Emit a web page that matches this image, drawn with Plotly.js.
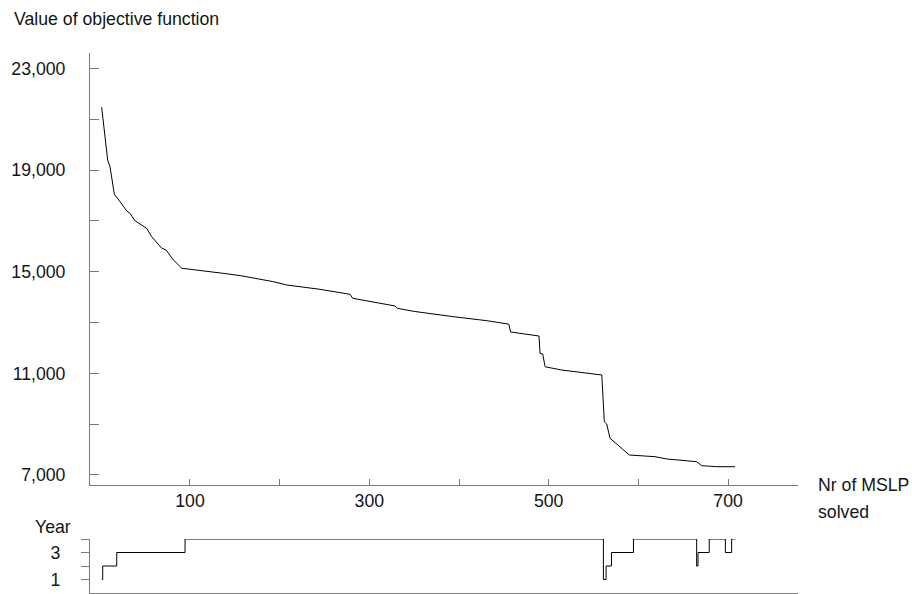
<!DOCTYPE html>
<html>
<head>
<meta charset="utf-8">
<script src="https://cdn.plot.ly/plotly-3.0.1.min.js"></script>
<style>html,body{margin:0;padding:0;background:#fff;}#chart{width:912px;height:594px;}</style>
</head>
<body>
<div id="chart"></div>
<script>
// Objective function value per number of MSLP solved
const mslpX = [1.5, 3.3, 8.2, 10.8, 14.5, 15.6, 22, 29.4, 33, 38.7, 51.7, 57.3, 68.5, 73.3, 81.4, 90.8,
  137, 156, 193, 208, 245, 254, 278.5, 281.4, 328.6, 331.2, 349, 393.7, 431, 455.5, 457.5, 489.2,
  490.3, 493.3, 496, 514.5, 559.2, 562, 564.7, 568.4, 581.5, 590, 618.6, 631.7, 665, 670.7, 687.4, 707.8];
const objective = [21480, 20850, 19400, 19140, 18150, 18060, 17760, 17400, 17300, 17010, 16710, 16380, 15930, 15860, 15470, 15140,
  14940, 14850, 14610, 14480, 14310, 14256, 14114, 13957, 13654, 13563, 13445, 13233, 13075, 12940, 12630, 12472,
  11790, 11764, 11260, 11134, 10937, 9098, 9008, 8445, 8051, 7787, 7720, 7630, 7524, 7366, 7327, 7327];

// Year series (step)
const yearX = [1.5, 2.7, 18.3, 94.5, 561, 564, 570, 594.5, 665, 666.5, 679, 697, 704, 708];
const yearVal = [1, 2, 3, 4, 1, 2, 3, 4, 2, 3, 4, 3, 4, 4];

// Tick labels
const yTickVals = [7000, 9000, 11000, 13000, 15000, 17000, 19000, 21000, 23000];
const yTickText = ['7,000', '', '11,000', '', '15,000', '', '19,000', '', '23,000'];
const xTickVals = [100, 200, 300, 400, 500, 600, 700];
const xTickText = ['100', '', '300', '', '500', '', '700'];
const yrTickVals = [1, 2, 3, 4];
const yrTickText = ['1', '', '3', ''];

const FONT = 'Liberation Sans, Arial, sans-serif';
const FS = 17.7;
const AX = '#7a7a7a';
const TXT = '#151515';

const traces = [
  {x: mslpX, y: objective, type: 'scatter', mode: 'lines', xaxis: 'x', yaxis: 'y',
   line: {color: '#000', width: 1}, hoverinfo: 'skip'},
  {x: yearX, y: yearVal, type: 'scatter', mode: 'lines', xaxis: 'x2', yaxis: 'y2',
   line: {color: '#000', width: 1, shape: 'hv'}, hoverinfo: 'skip'}
];

const layout = {
  width: 912, height: 594,
  margin: {l: 90, r: 114, t: 53, b: 1},
  paper_bgcolor: '#fff', plot_bgcolor: '#fff',
  showlegend: false,
  font: {family: FONT, size: FS, color: TXT},
  xaxis: {domain: [0, 1], anchor: 'y', range: [-11.5, 778], showgrid: false, zeroline: false,
    showline: true, linecolor: AX, linewidth: 1, ticks: 'inside', ticklen: 6, tickcolor: AX,
    tickvals: xTickVals, ticktext: xTickText, ticklabelstandoff: 0,
    tickfont: {family: FONT, size: FS, color: TXT}},
  yaxis: {domain: [0.2, 1], anchor: 'x', range: [6606, 23614], showgrid: false, zeroline: false,
    showline: true, linecolor: AX, linewidth: 1, ticks: 'inside', ticklen: 9, tickcolor: AX,
    tickvals: yTickVals, ticktext: yTickText, ticklabelstandoff: 20,
    tickfont: {family: FONT, size: FS, color: TXT}},
  xaxis2: {domain: [0, 1], anchor: 'y2', matches: 'x', range: [-11.5, 778], showgrid: false, zeroline: false,
    showline: true, linecolor: AX, linewidth: 1, ticks: '', showticklabels: false},
  yaxis2: {domain: [0, 0.1], anchor: 'x2', range: [0, 4], showgrid: false, zeroline: false,
    showline: true, linecolor: AX, linewidth: 1, ticks: 'outside', ticklen: 8, tickcolor: AX,
    tickvals: yrTickVals, ticktext: yrTickText, ticklabelstandoff: 17,
    tickfont: {family: FONT, size: FS, color: TXT}},
  annotations: [
    {text: 'Value of objective function', xref: 'paper', yref: 'paper', x: -0.110, y: 1.063,
     xanchor: 'left', yanchor: 'middle', showarrow: false, font: {family: FONT, size: FS, color: TXT}},
    {text: 'Year', xref: 'paper', yref: 'paper', x: -0.024, y: 0.122,
     xanchor: 'right', yanchor: 'middle', showarrow: false, font: {family: FONT, size: FS, color: TXT}},
    {text: 'Nr of MSLP', xref: 'paper', yref: 'paper', x: 1.026, y: 0.2,
     xanchor: 'left', yanchor: 'middle', showarrow: false, font: {family: FONT, size: FS, color: TXT}},
    {text: 'solved', xref: 'paper', yref: 'paper', x: 1.026, y: 0.15,
     xanchor: 'left', yanchor: 'middle', showarrow: false, font: {family: FONT, size: FS, color: TXT}}
  ]
};

Plotly.newPlot('chart', traces, layout, {staticPlot: true, displayModeBar: false});
</script>
</body>
</html>
